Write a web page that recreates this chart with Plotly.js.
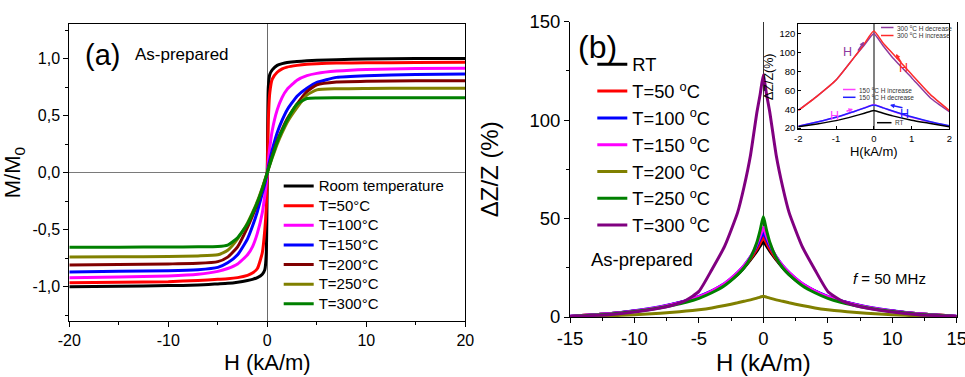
<!DOCTYPE html>
<html><head><meta charset="utf-8">
<script src="https://cdn.plot.ly/plotly-3.0.1.min.js"></script>
<style>html,body{margin:0;padding:0;background:#fff;} #chart{width:965px;height:377px;}</style>
</head><body><div id="chart"></div>
<script>
// ---------- Panel (a): M/M0 vs H ----------
const hA = [-20,-15,-10,-7,-5,-4,-3,-2,-1.5,-1,-0.5,-0.25,-0.1,0,0.1,0.25,0.5,1,1.5,2,3,4,5,7,10,15,20];
const mRT  = [-1.0,-0.995,-0.99,-0.985,-0.975,-0.97,-0.96,-0.945,-0.935,-0.92,-0.89,-0.85,-0.7,0,0.75,0.86,0.9,0.94,0.955,0.965,0.975,0.98,0.985,0.99,0.995,1.0,1.0];
const m50  = [-0.965,-0.96,-0.955,-0.945,-0.935,-0.93,-0.92,-0.9,-0.88,-0.84,-0.7,-0.5,-0.3,0,0.45,0.7,0.82,0.88,0.91,0.925,0.94,0.95,0.955,0.96,0.963,0.965,0.967];
const m100 = [-0.92,-0.915,-0.905,-0.89,-0.865,-0.84,-0.8,-0.72,-0.65,-0.53,-0.35,-0.2,-0.09,0,0.1,0.22,0.37,0.55,0.66,0.73,0.81,0.85,0.87,0.89,0.905,0.912,0.915];
const m150 = [-0.87,-0.865,-0.86,-0.85,-0.83,-0.79,-0.72,-0.58,-0.47,-0.34,-0.18,-0.1,-0.04,0,0.05,0.11,0.2,0.35,0.46,0.55,0.67,0.74,0.79,0.835,0.85,0.86,0.865];
const m200 = [-0.81,-0.805,-0.8,-0.795,-0.78,-0.74,-0.65,-0.48,-0.38,-0.27,-0.14,-0.07,-0.03,0,0.03,0.08,0.15,0.28,0.38,0.47,0.6,0.71,0.77,0.795,0.8,0.805,0.805];
const m250 = [-0.74,-0.738,-0.735,-0.73,-0.72,-0.68,-0.58,-0.44,-0.35,-0.25,-0.13,-0.065,-0.025,0,0.03,0.07,0.13,0.25,0.35,0.44,0.57,0.68,0.725,0.735,0.738,0.74,0.74];
const m300 = [-0.653,-0.653,-0.652,-0.65,-0.648,-0.635,-0.57,-0.45,-0.36,-0.26,-0.14,-0.07,-0.03,0,0.03,0.07,0.14,0.27,0.37,0.46,0.6,0.65,0.655,0.656,0.656,0.656,0.657];
const namesA = ['Room temperature','T=50°C','T=100°C','T=150°C','T=200°C','T=250°C','T=300°C'];
const xTickValsA = [-20,-10,0,10,20];
const xTickTextA = ['-20','-10','0','10','20'];
const yTickValsA = [-1,-0.5,0,0.5,1];
const yTickTextA = ['-1,0','-0,5','0,0','0,5','1,0'];

// ---------- Panel (b): GMI ratio vs H ----------
const hB = [-15,-12,-10,-8,-7,-6,-5,-4,-3,-2,-1.5,-1,-0.5,-0.25,0,0.25,0.5,1,1.5,2,3,4,5,6,7,8,10,12,15];
const zRT  = [0.3,1.6,3,5,6.5,8,10,13,16.5,21.5,25,29,33.5,36,38,36,33.5,29,25,21.5,16.5,13,10,8,6.5,5,3,1.6,0.3];
const z50  = [0.3,1.6,3,5,6.5,8.1,10.2,13.2,16.8,22,25.5,29.5,34.5,37.5,40.5,37.5,34.5,29.5,25.5,22,16.8,13.2,10.2,8.1,6.5,5,3,1.6,0.3];
const z100 = [0.4,1.7,3.2,5.2,6.6,8.3,10.5,13.3,17,22.5,26,30.5,36,39.5,42.5,39.5,36,30.5,26,22.5,17,13.3,10.5,8.3,6.6,5.2,3.2,1.7,0.4];
const z150 = [0.4,1.7,3.1,5.1,6.5,8.2,10.3,13.2,17,22.5,26,30.5,37,41,45.5,41,37,30.5,26,22.5,17,13.2,10.3,8.2,6.5,5.1,3.1,1.7,0.4];
const z200 = [0.1,0.6,1.1,1.9,2.4,3,3.7,4.6,5.8,7.2,8,8.7,9.6,10.1,10.5,10.1,9.6,8.7,8,7.2,5.8,4.6,3.7,3,2.4,1.9,1.1,0.6,0.1];
const z250 = [0.3,1.4,2.8,4.7,6,7.5,9.5,12.3,16,21.5,25,30,38,44,51,44,38,30,25,21.5,16,12.3,9.5,7.5,6,4.7,2.8,1.4,0.3];
const z300 = [0.3,1.2,2.5,4.5,6,8.5,13,24,36,53,66,82,104,113,123,113,104,82,66,53,36,24,13,8.5,6,4.5,2.5,1.2,0.3];
const namesB = ['RT','T=50 <sup>o</sup>C','T=100 <sup>o</sup>C','T=150 <sup>o</sup>C','T=200 <sup>o</sup>C','T=250 <sup>o</sup>C','T=300 <sup>o</sup>C'];
const xTickValsB = [-15,-10,-5,0,5,10,15];
const xTickTextB = ['-15','-10','-5','0','5','10','15'];
const yTickValsB = [0,50,100,150];

// ---------- Inset ----------
const hI = [-2,-1.5,-1,-0.5,-0.25,0,0.25,0.5,1,1.5,2];
const i300dec = [39,54,71,96,108,120,107,94.5,73.5,52,37.5];
const i300inc = [38.7,54,71,96,109.5,123,110,99,77,55.5,38.7];
const i150inc = [22,26.5,31.5,38,41.5,45,41.5,38,31.5,26.5,22];
const i150dec = [22,26.5,31.5,38,41.3,44.5,41.5,38.2,32,26.8,22.5];
const iRT     = [21.5,24.5,28,33,35.8,38.7,35.8,33,28.5,25,21.5];
const namesI = ['300 <sup>o</sup>C H decrease','300 <sup>o</sup>C H increase','150 <sup>o</sup>C H increase','150 <sup>o</sup>C H decrease','RT'];
const xTickValsI = [-2,-1,0,1,2];
const xTickTextI = ['-2','-1','0','1','2'];
const yTickValsI = [20,40,60,80,100,120];

// ---------- styles ----------
const W = 965, H = 377;
const px = v => v / W, py = v => 1 - v / H;
const FONT = 'Liberation Sans, Arial, Helvetica, sans-serif';
const colA = ['#000000','#FF0000','#FF00FF','#0000FF','#800000','#808000','#008000'];
const colB = ['#000000','#FF0000','#0000FF','#FF00FF','#808000','#008000','#800080'];
const colI = ['#8E3A9E','#FF2A2A','#FF40FF','#2020FF','#000000'];

const traces = [];
[mRT,m50,m100,m150,m200,m250,m300].forEach((m,i) => traces.push({
  x: hA, y: m, xaxis:'x', yaxis:'y', mode:'lines', name: '<span style="font-size:15px">' + namesA[i] + '</span>',
  line:{color:colA[i], width:3, shape:'spline', smoothing:0.5}, legend:'legend'
}));
[zRT,z50,z100,z150,z200,z250,z300].forEach((z,i) => traces.push({
  x: hB, y: z, xaxis:'x2', yaxis:'y2', mode:'lines', name: namesB[i],
  line:{color:colB[i], width:3, shape:'spline', smoothing:0.5}, legend:'legend2'
}));
[i300dec,i300inc,i150inc,i150dec,iRT].forEach((z,i) => traces.push({
  x: hI, y: z, xaxis:'x3', yaxis:'y3', mode:'lines', name: namesI[i], showlegend:false,
  line:{color:colI[i], width:1.5, shape:'spline', smoothing:0.5}
}));

const axBase = {showline:true, linecolor:'#000', linewidth:1, showgrid:false, ticks:'outside',
  tickcolor:'#000', tickwidth:1, tickfont:{family:FONT, color:'#000'}, tickmode:'array', fixedrange:true,
  ticklabeloverflow:'allow', automargin:false};

const annotations = [
  {text:'(a)', x:px(102), y:py(55), xref:'paper', yref:'paper', xanchor:'center', yanchor:'middle', showarrow:false, font:{size:29, color:'#000'}},
  {text:'As-prepared', x:px(133), y:py(55), xref:'paper', yref:'paper', xanchor:'left', yanchor:'middle', showarrow:false, font:{size:17, color:'#000'}},
  {text:'(b)', x:px(597), y:py(47), xref:'paper', yref:'paper', xanchor:'center', yanchor:'middle', showarrow:false, font:{size:32, color:'#000'}},
  {text:'As-prepared', x:px(589), y:py(259), xref:'paper', yref:'paper', xanchor:'left', yanchor:'middle', showarrow:false, font:{size:18.5, color:'#000'}},
  {text:'<i>f</i> = 50 MHz', x:px(851), y:py(278), xref:'paper', yref:'paper', xanchor:'left', yanchor:'middle', showarrow:false, font:{size:15, color:'#000'}},
  // inset H labels
  {text:'H', x:px(853), y:py(44), xref:'paper', yref:'paper', showarrow:false, borderpad:0, font:{size:12.5, color:colI[0]}},
  {text:'H', x:px(908.5), y:py(59.5), xref:'paper', yref:'paper', showarrow:false, borderpad:0, font:{size:12.5, color:colI[1]}},
  {text:'H', x:px(839.5), y:py(108), xref:'paper', yref:'paper', showarrow:false, borderpad:0, font:{size:12.5, color:colI[2]}},
  {text:'H', x:px(909.5), y:py(105.5), xref:'paper', yref:'paper', showarrow:false, borderpad:0, font:{size:12.5, color:colI[3]}},
  // inset arrows
  {text:'', x:px(864), y:py(41.7), ax:-7, ay:10.5, xref:'paper', yref:'paper', showarrow:true, arrowhead:2, arrowsize:0.6, arrowwidth:1.5, arrowcolor:colI[0]},
  {text:'', x:px(896), y:py(54), ax:6, ay:10, xref:'paper', yref:'paper', showarrow:true, arrowhead:2, arrowsize:0.6, arrowwidth:1.5, arrowcolor:colI[1]},
  {text:'', x:px(853), y:py(109), ax:-8, ay:2.7, xref:'paper', yref:'paper', showarrow:true, arrowhead:2, arrowsize:0.6, arrowwidth:1.5, arrowcolor:colI[2]},
  {text:'', x:px(890), y:py(105), ax:14, ay:3, xref:'paper', yref:'paper', showarrow:true, arrowhead:2, arrowsize:0.6, arrowwidth:1.5, arrowcolor:colI[3]},
];
// inset legend (small keys)
const insetKeys = [[881,893.5,27.5],[881,893.5,35.5],[843,855.5,89.5],[843,855.5,97.3],[877,891.5,122.7]];
const shapes = [];
insetKeys.forEach((k,i) => {
  shapes.push({type:'line', xref:'paper', yref:'paper', x0:px(k[0]), x1:px(k[1]), y0:py(k[2]), y1:py(k[2]), line:{color:colI[i], width:1.5}});
  annotations.push({text:namesI[i], x:px(k[1]+2.5), y:py(k[2]), xref:'paper', yref:'paper', xanchor:'left', yanchor:'middle', showarrow:false, borderpad:0, font:{size:6.5, color:'#333'}});
});

const layout = {
  width: W, height: H, margin:{l:0,r:0,t:0,b:0}, paper_bgcolor:'#fff', plot_bgcolor:'#fff',
  font:{family:FONT, color:'#000'}, showlegend:true,
  xaxis: Object.assign({}, axBase, {domain:[px(69.3), px(465.3)], range:[-20,20], anchor:'y', mirror:true,
    tickvals:xTickValsA, ticktext:xTickTextA, ticklen:5, tickfont:{family:FONT,size:16,color:'#000'},
    minor:{ticks:'outside', ticklen:3, tickmode:'linear', tick0:0, dtick:5, tickcolor:'#000'},
    zeroline:true, zerolinecolor:'#6a6a6a', zerolinewidth:1.5,
    title:{text:'H (kA/m)', font:{size:22, family:FONT, color:'#000'}, standoff:6}}),
  yaxis: Object.assign({}, axBase, {domain:[py(321), py(24.3)], range:[-1.3,1.3], anchor:'x', mirror:true,
    tickvals:yTickValsA, ticktext:yTickTextA, ticklen:5, tickfont:{family:FONT,size:16,color:'#000'},
    minor:{ticks:'outside', ticklen:3, tickmode:'linear', tick0:0, dtick:0.25, tickcolor:'#000'},
    zeroline:true, zerolinecolor:'#7a7a7a', zerolinewidth:1.5,
    title:{text:'M/M<sub>0</sub>', font:{size:22, family:FONT, color:'#000'}, standoff:5}}),
  xaxis2: Object.assign({}, axBase, {domain:[px(570), px(956.7)], range:[-15,15], anchor:'y2', mirror:false,
    tickvals:xTickValsB, ticktext:xTickTextB, ticklen:5, tickfont:{family:FONT,size:18.5,color:'#000'},
    minor:{ticks:'outside', ticklen:3, tickmode:'linear', tick0:0, dtick:2.5, tickcolor:'#000'},
    zeroline:true, zerolinecolor:'#333', zerolinewidth:1.5,
    title:{text:'H (kA/m)', font:{size:24, family:FONT, color:'#000'}, standoff:4}}),
  yaxis2: Object.assign({}, axBase, {domain:[py(317), py(21.6)], range:[0,150], anchor:'x2', mirror:true,
    tickvals:yTickValsB, ticktext:yTickValsB.map(String), ticklen:5, tickfont:{family:FONT,size:18.5,color:'#000'},
    minor:{ticks:'outside', ticklen:3, tickmode:'linear', tick0:0, dtick:25, tickcolor:'#000'},
    zeroline:false,
    title:{text:'ΔZ/Z (%)', font:{size:24, family:FONT, color:'#000'}, standoff:24}}),
  xaxis3: Object.assign({}, axBase, {domain:[px(798.3), px(949.3)], range:[-2,2], anchor:'y3', mirror:true, ticks:'inside',
    tickvals:xTickValsI, ticktext:xTickTextI, ticklen:3, tickfont:{family:FONT,size:9.5,color:'#000'},
    zeroline:true, zerolinecolor:'#808080', zerolinewidth:2.5,
    title:{text:'H(kA/m)', font:{size:13, family:FONT, color:'#000'}, standoff:2}}),
  yaxis3: Object.assign({}, axBase, {domain:[py(129.3), py(24.3)], range:[18.8,130], anchor:'x3', mirror:true, ticks:'inside',
    tickvals:yTickValsI, ticktext:yTickValsI.map(String), ticklen:3, tickfont:{family:FONT,size:9.5,color:'#000'},
    zeroline:false,
    title:{text:'ΔZ/Z(%)', font:{size:12.5, family:FONT, color:'#000'}, standoff:3}}),
  legend: {x:px(278.7), y:py(171.2), xanchor:'left', yanchor:'top', bgcolor:'rgba(0,0,0,0)', borderwidth:0,
    font:{size:12.8, family:FONT, color:'#000'}},
  legend2: {x:px(592.3), y:py(45.9), xanchor:'left', yanchor:'top', bgcolor:'rgba(0,0,0,0)', borderwidth:0,
    font:{size:18.3, family:FONT, color:'#000'}},
  annotations: annotations,
  shapes: shapes
};

Plotly.newPlot('chart', traces, layout, {staticPlot:true, displayModeBar:false});
</script></body></html>
